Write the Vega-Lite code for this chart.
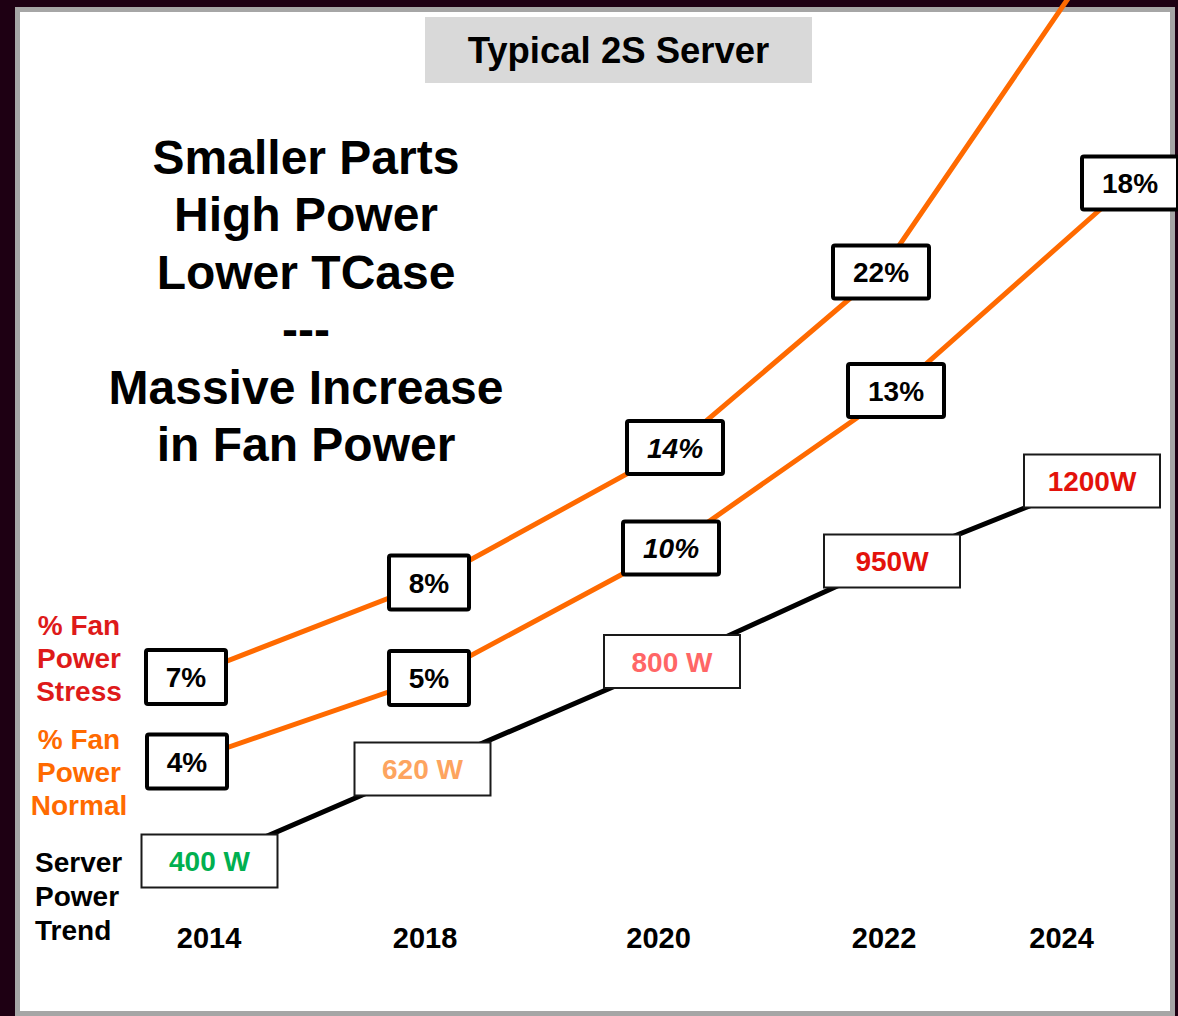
{
  "$schema": "https://vega.github.io/schema/vega-lite/v6.json",
  "width": 1155,
  "height": 1004,
  "padding": {"left": 17.5, "top": 9.5, "right": 5.5, "bottom": 2.5},
  "autosize": {"type": "none"},
  "background": "#1e0013",
  "config": {
    "view": {"fill": "white", "stroke": "#a6a6a6", "strokeWidth": 5},
    "font": "Liberation Sans",
    "text": {"font": "Liberation Sans"}
  },
  "datasets": {
    "notes": [
      {"kind": "title", "text": "Typical 2S Server"},
      {"kind": "headline", "text": "Smaller Parts\nHigh Power\nLower TCase\n---\nMassive Increase\nin Fan Power"}
    ],
    "stress": [
      {"year": 2014, "value": 7, "label": "7%", "series": "% Fan\nPower\nStress"},
      {"year": 2018, "value": 8, "label": "8%", "series": "% Fan\nPower\nStress"},
      {"year": 2020, "value": 14, "label": "14%", "series": "% Fan\nPower\nStress"},
      {"year": 2022, "value": 22, "label": "22%", "series": "% Fan\nPower\nStress"},
      {"year": 2024, "value": 30, "label": null, "series": "% Fan\nPower\nStress"}
    ],
    "normal": [
      {"year": 2014, "value": 4, "label": "4%", "series": "% Fan\nPower\nNormal"},
      {"year": 2018, "value": 5, "label": "5%", "series": "% Fan\nPower\nNormal"},
      {"year": 2020, "value": 10, "label": "10%", "series": "% Fan\nPower\nNormal"},
      {"year": 2022, "value": 13, "label": "13%", "series": "% Fan\nPower\nNormal"},
      {"year": 2024, "value": 18, "label": "18%", "series": "% Fan\nPower\nNormal"}
    ],
    "server": [
      {"year": 2014, "value": 400, "label": "400 W", "series": "Server\nPower\nTrend"},
      {"year": 2018, "value": 620, "label": "620 W", "series": "Server\nPower\nTrend"},
      {"year": 2020, "value": 800, "label": "800 W", "series": "Server\nPower\nTrend"},
      {"year": 2022, "value": 950, "label": "950W", "series": "Server\nPower\nTrend"},
      {"year": 2024, "value": 1200, "label": "1200W", "series": "Server\nPower\nTrend"}
    ],
    "years": [
      {"year": 2014, "row": "Year"},
      {"year": 2018, "row": "Year"},
      {"year": 2020, "row": "Year"},
      {"year": 2022, "row": "Year"},
      {"year": 2024, "row": "Year"}
    ]
  },
  "layer": [
    {
      "data": {"name": "notes"},
      "encoding": {
        "x": {"field": "kind", "type": "nominal", "axis": null, "scale": {"type": "point", "domain": ["headline", "title"], "range": [288.5, 601], "padding": 0}},
        "y": {"field": "kind", "type": "nominal", "axis": null, "scale": {"type": "point", "domain": ["title", "headline"], "range": [40.5, 291], "padding": 0}}
      },
      "layer": [
        {"transform": [{"filter": "datum.kind == 'title'"}], "mark": {"type": "rect", "width": 387, "height": 66, "fill": "#d9d9d9"}},
        {"transform": [{"filter": "datum.kind == 'title'"}], "mark": {"type": "text", "fontSize": 36.5, "fontWeight": "bold", "color": "black", "align": "center", "baseline": "middle", "dy": 2}, "encoding": {"text": {"field": "text"}}},
        {"transform": [{"filter": "datum.kind == 'headline'"}], "mark": {"type": "text", "fontSize": 48, "fontWeight": "bold", "color": "black", "align": "center", "baseline": "middle", "lineBreak": "\n", "lineHeight": 57.4, "dy": -140.5}, "encoding": {"text": {"field": "text"}}}
      ]
    },
    {
      "data": {"name": "stress"},
      "encoding": {
        "x": {"field": "year", "type": "quantitative", "axis": null, "scale": {"domain": [2014, 2018, 2020, 2022, 2024], "range": [168.5, 411.5, 657.5, 863.5, 1112.5], "nice": false, "zero": false}},
        "y": {"field": "value", "type": "quantitative", "axis": null, "scale": {"domain": [7, 8, 14, 22, 30], "range": [667.5, 573, 438, 262.5, -101.5], "nice": false, "zero": false}}
      },
      "layer": [
        {"mark": {"type": "line", "color": "#ff6a00", "strokeWidth": 5}},
        {"transform": [{"filter": "isValid(datum.label) && length(datum.label) == 2"}], "mark": {"type": "rect", "width": 80, "height": 54, "fill": "white", "stroke": "black", "strokeWidth": 4, "cornerRadius": 2}},
        {"transform": [{"filter": "isValid(datum.label) && length(datum.label) == 3"}], "mark": {"type": "rect", "width": 96, "height": 53, "fill": "white", "stroke": "black", "strokeWidth": 4, "cornerRadius": 2}},
        {"transform": [{"filter": "isValid(datum.label) && datum.year != 2020"}], "mark": {"type": "text", "fontSize": 28, "fontWeight": "bold", "color": "black", "align": "center", "baseline": "middle", "dy": 2}, "encoding": {"text": {"field": "label"}}},
        {"transform": [{"filter": "datum.year == 2020"}], "mark": {"type": "text", "fontSize": 28, "fontWeight": "bold", "fontStyle": "italic", "color": "black", "align": "center", "baseline": "middle", "dy": 2}, "encoding": {"text": {"field": "label"}}},
        {"transform": [{"filter": "datum.year == 2014"}], "mark": {"type": "text", "fontSize": 28, "fontWeight": "bold", "color": "#de1a1a", "align": "center", "baseline": "middle", "lineBreak": "\n", "lineHeight": 33, "dx": -107, "dy": -50}, "encoding": {"text": {"field": "series"}}}
      ]
    },
    {
      "data": {"name": "normal"},
      "encoding": {
        "x": {"field": "year", "type": "quantitative", "axis": null, "scale": {"domain": [2014, 2018, 2020, 2022, 2024], "range": [169.5, 411.5, 653.5, 878.5, 1112.5], "nice": false, "zero": false}},
        "y": {"field": "value", "type": "quantitative", "axis": null, "scale": {"domain": [4, 5, 10, 13, 18], "range": [752, 668.5, 538.5, 381, 173.5], "nice": false, "zero": false}}
      },
      "layer": [
        {"mark": {"type": "line", "color": "#ff6a00", "strokeWidth": 5}},
        {"transform": [{"filter": "length(datum.label) == 2"}], "mark": {"type": "rect", "width": 80, "height": 54, "fill": "white", "stroke": "black", "strokeWidth": 4, "cornerRadius": 2}},
        {"transform": [{"filter": "length(datum.label) == 3"}], "mark": {"type": "rect", "width": 96, "height": 53, "fill": "white", "stroke": "black", "strokeWidth": 4, "cornerRadius": 2}},
        {"transform": [{"filter": "datum.year != 2020"}], "mark": {"type": "text", "fontSize": 28, "fontWeight": "bold", "color": "black", "align": "center", "baseline": "middle", "dy": 2}, "encoding": {"text": {"field": "label"}}},
        {"transform": [{"filter": "datum.year == 2020"}], "mark": {"type": "text", "fontSize": 28, "fontWeight": "bold", "fontStyle": "italic", "color": "black", "align": "center", "baseline": "middle", "dy": 2}, "encoding": {"text": {"field": "label"}}},
        {"transform": [{"filter": "datum.year == 2014"}], "mark": {"type": "text", "fontSize": 28, "fontWeight": "bold", "color": "#ff6a00", "align": "center", "baseline": "middle", "lineBreak": "\n", "lineHeight": 33, "dx": -108, "dy": -20.4}, "encoding": {"text": {"field": "series"}}}
      ]
    },
    {
      "data": {"name": "server"},
      "encoding": {
        "x": {"field": "year", "type": "quantitative", "axis": null, "scale": {"domain": [2014, 2018, 2020, 2022, 2024], "range": [192, 405, 654.5, 874.5, 1074.5], "nice": false, "zero": false}},
        "y": {"field": "value", "type": "quantitative", "axis": null, "scale": {"domain": [400, 620, 800, 950, 1200], "range": [851.5, 759.5, 652, 551.5, 471.5], "nice": false, "zero": false}}
      },
      "layer": [
        {"mark": {"type": "line", "color": "black", "strokeWidth": 5}},
        {"mark": {"type": "rect", "width": 136, "height": 53, "fill": "white", "stroke": "#1a1a1a", "strokeWidth": 2}},
        {"mark": {"type": "text", "fontSize": 28, "fontWeight": "bold", "align": "center", "baseline": "middle", "dy": 2}, "encoding": {"text": {"field": "label"}, "color": {"field": "year", "type": "ordinal", "legend": null, "scale": {"domain": [2014, 2018, 2020, 2022, 2024], "range": ["#00b050", "#fda45f", "#ff6666", "#e3120b", "#e3120b"]}}}},
        {"transform": [{"filter": "datum.year == 2014"}], "mark": {"type": "text", "fontSize": 28, "fontWeight": "bold", "color": "black", "align": "left", "baseline": "middle", "lineBreak": "\n", "lineHeight": 34, "dx": -174.5, "dy": 3}, "encoding": {"text": {"field": "series"}}}
      ]
    },
    {
      "data": {"name": "years"},
      "mark": {"type": "text", "fontSize": 29, "fontWeight": "bold", "color": "black", "align": "center", "baseline": "middle"},
      "encoding": {
        "x": {"field": "year", "type": "quantitative", "axis": null, "scale": {"domain": [2014, 2018, 2020, 2022, 2024], "range": [191.5, 407.5, 641, 866.5, 1044], "nice": false, "zero": false}},
        "y": {"field": "row", "type": "nominal", "axis": null, "scale": {"type": "point", "range": [929.7, 929.7]}},
        "text": {"field": "year", "type": "quantitative", "format": "d"}
      }
    }
  ],
  "resolve": {"scale": {"x": "independent", "y": "independent", "color": "independent"}}
}
